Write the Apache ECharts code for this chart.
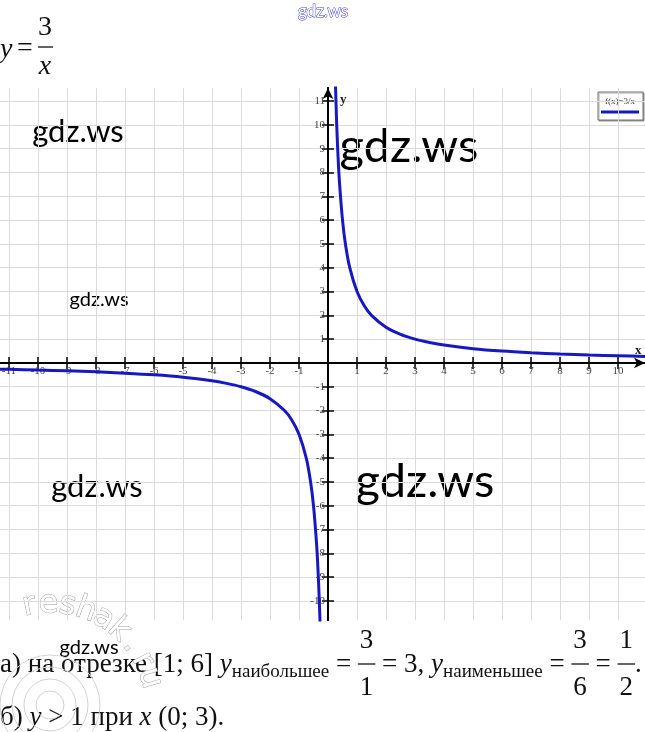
<!DOCTYPE html>
<html>
<head>
<meta charset="utf-8">
<title>y = 3/x</title>
<script src="https://cdn.jsdelivr.net/npm/echarts@6/dist/echarts.min.js"></script>
<style>
html, body { margin: 0; padding: 0; background: #fff; }
#chart { width: 645px; height: 732px; }
</style>
</head>
<body>
<div id="chart"></div>
<script>
// значения (ветви гиперболы y = 3/x)
var rightX = [0.25, 0.3, 0.35, 0.4, 0.5, 0.6, 0.75, 1, 1.25, 1.5, 2, 2.5, 3, 3.5, 4, 5, 6, 7, 8, 9, 10, 11];
var rightY = [12, 10, 8.57, 7.5, 6, 5, 4, 3, 2.4, 2, 1.5, 1.2, 1, 0.86, 0.75, 0.6, 0.5, 0.43, 0.375, 0.33, 0.3, 0.27];
var leftX = [-11.5, -11, -10, -9, -8, -7, -6, -5, -4, -3.5, -3, -2.5, -2, -1.5, -1.25, -1, -0.75, -0.6, -0.5, -0.4, -0.35, -0.3, -0.27];
var leftY = [-0.26, -0.27, -0.3, -0.33, -0.375, -0.43, -0.5, -0.6, -0.75, -0.86, -1, -1.2, -1.5, -2, -2.4, -3, -4, -5, -6, -7.5, -8.57, -10, -11.1];

// подписи делений
var xTicks = [-11, -10, -9, -8, -7, -6, -5, -4, -3, -2, -1, 1, 2, 3, 4, 5, 6, 7, 8, 9, 10];
var yTicks = [-10, -9, -8, -7, -6, -5, -4, -3, -2, -1, 1, 2, 3, 4, 5, 6, 7, 8, 9, 10, 11];

var X_MIN = -11.31, X_MAX = 10.93;
var Y_MIN = -10.8, Y_MAX = 11.55;

// область построения
var W = 645, H = 732;
var G = { left: 0, right: 0, top: 88, bottom: 112 };
var gw = W - G.left - G.right, gh = H - G.top - G.bottom;
// где проходят нули осей (в пикселях от краёв сетки)
var zeroFromLeft = (0 - X_MIN) / (X_MAX - X_MIN) * gw;
var zeroFromTop = (Y_MAX - 0) / (Y_MAX - Y_MIN) * gh;

function zip(xs, ys) {
  return xs.map(function (x, i) { return [x, ys[i]]; });
}

var serif = '"Liberation Serif", "Times New Roman", serif';
var blue = '#1818c2';

var chart = echarts.init(document.getElementById('chart'));

var tickLabel = {
  fontFamily: serif,
  fontSize: 11,
  color: '#444'
};

// две оси на измерение: у каждой засечки в свою сторону, вместе получается "крестик"
function axisPair(dim) {
  var isX = dim === 'x';
  var ticks = isX ? xTicks : yTicks;
  var base = {
    type: 'value',
    min: isX ? X_MIN : Y_MIN,
    max: isX ? X_MAX : Y_MAX,
    minInterval: 1,
    maxInterval: 1
  };
  var first = Object.assign({}, base, {
    position: isX ? 'bottom' : 'left',
    offset: isX ? -(gh - zeroFromTop) : -zeroFromLeft,
    name: dim,
    nameLocation: 'end',
    nameGap: isX ? -10 : -18,
    nameTextStyle: isX
      ? { fontFamily: serif, fontWeight: 'bold', fontSize: 13, color: '#222', verticalAlign: 'bottom', padding: [0, 0, 6, 0] }
      : { fontFamily: serif, fontWeight: 'bold', fontSize: 13, color: '#222', align: 'left', verticalAlign: 'bottom', padding: [0, 0, 0, 12] },
    axisLine: {
      onZero: false,
      symbol: ['none', 'arrow'], symbolSize: [8, 11],
      lineStyle: { color: '#000', width: 2 }
    },
    axisTick: { customValues: ticks, length: 6, lineStyle: { color: '#000', width: 1.5 } },
    axisLabel: Object.assign({ customValues: ticks, margin: 3 }, tickLabel),
    splitLine: { show: true, lineStyle: { color: '#dcdcdc', width: 1 } }
  });
  var second = Object.assign({}, base, {
    position: isX ? 'top' : 'right',
    offset: isX ? -zeroFromTop : -(gw - zeroFromLeft),
    axisLine: { onZero: false, lineStyle: { color: '#000', width: 2 } },
    axisTick: { customValues: ticks, length: 6, lineStyle: { color: '#000', width: 1.5 } },
    axisLabel: { show: false },
    splitLine: { show: false }
  });
  return [first, second];
}

// ---------- подписи и водяные знаки ----------
var ctx = document.createElement('canvas').getContext('2d');
function textW(t, font) { ctx.font = font; return ctx.measureText(t).width; }

var F = 27;
var fN = F + 'px ' + serif;
var fI = 'italic ' + F + 'px ' + serif;
var fS = '19px ' + serif;

function txt(t, x, y, font, opts) {
  opts = opts || {};
  return {
    type: 'text', x: x, y: y, silent: true,
    style: {
      text: t, font: font, fill: opts.fill || '#111',
      align: opts.align || 'left', verticalAlign: opts.va || 'middle',
      stroke: opts.stroke, lineWidth: opts.lineWidth
    },
    rotation: opts.rotation || 0
  };
}

// строка из кусков: {t, font, dy} или {frac:[num, den]}
function layoutLine(parts, x0, yc, out) {
  var x = x0;
  parts.forEach(function (p) {
    if (p.frac) {
      var wn = Math.max(textW(p.frac[0], fN), textW(p.frac[1], fN));
      var cx = x + wn / 2 + 2;
      out.push(txt(p.frac[0], cx, yc - 24, fN, { align: 'center' }));
      out.push(txt(p.frac[1], cx, yc + 23, fN, { align: 'center' }));
      out.push({ type: 'line', silent: true, shape: { x1: x, y1: yc - 1, x2: x + wn + 4, y2: yc - 1 }, style: { stroke: '#111', lineWidth: 1.3 } });
      x += wn + 4;
    } else {
      out.push(txt(p.t, x, yc + (p.dy || 0), p.font || fN));
      x += textW(p.t, p.font || fN);
    }
  });
  return x;
}

var graphics = [];

// формула в заголовке
graphics.push(txt('y', 0, 50, 'italic 28px ' + serif));
graphics.push(txt('=', 17, 49, '28px ' + serif));
graphics.push(txt('3', 45, 28, '28px ' + serif, { align: 'center' }));
graphics.push({ type: 'line', silent: true, shape: { x1: 38, y1: 47, x2: 53, y2: 47 }, style: { stroke: '#111', lineWidth: 1.3 } });
graphics.push(txt('x', 45, 67, 'italic 28px ' + serif, { align: 'center' }));

// ответы
layoutLine([
  { t: 'а) на отрезке [1; 6] ' },
  { t: 'y', font: fI },
  { t: 'наибольшее', font: fS, dy: 7 },
  { t: ' = ' },
  { frac: ['3', '1'] },
  { t: ' = 3, ' },
  { t: 'y', font: fI },
  { t: 'наименьшее', font: fS, dy: 7 },
  { t: ' = ' },
  { frac: ['3', '6'] },
  { t: ' = ' },
  { frac: ['1', '2'] },
  { t: '.' }
], 0, 665, graphics);

layoutLine([
  { t: 'б) ' },
  { t: 'y', font: fI },
  { t: ' > 1 при ' },
  { t: 'x', font: fI },
  { t: ' (0; 3).' }
], 0, 718, graphics);

// легенда
graphics.push({ type: 'rect', silent: true, shape: { x: 598, y: 92, width: 45, height: 28 }, style: { fill: '#fff', stroke: '#777', lineWidth: 1, shadowColor: 'rgba(0,0,0,0.35)', shadowOffsetX: 1, shadowOffsetY: 1, shadowBlur: 1 } });
graphics.push(txt('f(x)=3/x', 620, 102, '9px ' + serif, { align: 'center', fill: '#333' }));
graphics.push({ type: 'line', silent: true, shape: { x1: 601, y1: 112, x2: 639, y2: 112 }, style: { stroke: blue, lineWidth: 3 } });

// водяные знаки gdz.ws
var wmFont = 'Lato, "Open Sans", sans-serif';
graphics.push(txt('gdz.ws', 323, 12, '17px ' + wmFont, { align: 'center', fill: '#fff', stroke: '#3a3ad8', lineWidth: 1 }));
[[78, 132, 31], [409, 147, 47], [99, 300, 20], [97, 487, 31], [425, 482, 47], [89, 648, 20]].forEach(function (w) {
  graphics.push(txt('gdz.ws', w[0], w[1], w[2] + 'px ' + wmFont, { align: 'center', fill: '#000' }));
});

// штамп reshak.ru
[14, 26, 38, 50].forEach(function (r) {
  graphics.push({ type: 'circle', silent: true, shape: { cx: 50, cy: 705, r: r }, style: { fill: 'none', stroke: '#d2d2d2', lineWidth: 1 } });
});
'reshak.ru'.split('').forEach(function (ch, i) {
  var a = (-101.5 + i * 10.6) * Math.PI / 180;
  var R = 104;
  graphics.push(txt(ch, 50 + R * Math.cos(a), 708 + R * Math.sin(a), '32px "DejaVu Sans", sans-serif', {
    align: 'center', fill: '#fff', stroke: '#a0a0a0', lineWidth: 1, rotation: -(a + Math.PI / 2)
  }));
});

var xs = axisPair('x');
var ys = axisPair('y');

chart.setOption({
  animation: false,
  backgroundColor: '#fff',
  grid: { left: G.left, right: G.right, top: G.top, bottom: G.bottom, outerBoundsMode: 'none', containLabel: false },
  xAxis: xs,
  yAxis: ys,
  series: [
    {
      name: 'f(x)=3/x', type: 'line', smooth: 0.3, showSymbol: false,
      xAxisIndex: 0, yAxisIndex: 0,
      lineStyle: { color: blue, width: 3 },
      data: zip(rightX, rightY)
    },
    {
      name: 'f(x)=3/x', type: 'line', smooth: 0.3, showSymbol: false,
      xAxisIndex: 0, yAxisIndex: 0,
      lineStyle: { color: blue, width: 3 },
      data: zip(leftX, leftY)
    }
  ],
  graphic: graphics
});
</script>
</body>
</html>
